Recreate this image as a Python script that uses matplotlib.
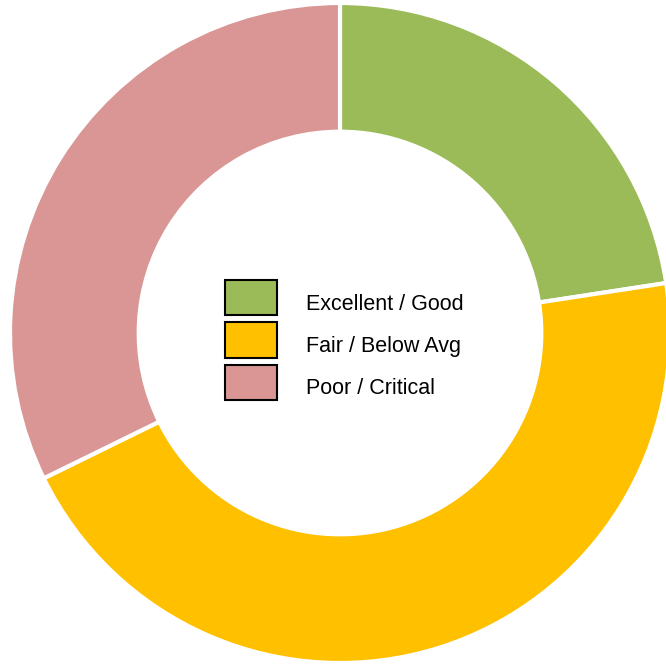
import matplotlib.pyplot as plt
import matplotlib.transforms as mtransforms

labels = ['Excellent / Good', 'Fair / Below Avg', 'Poor / Critical']
counts = [7, 14, 10]
colors = ['#9BBB59', '#FFC000', '#D99694']

plt.rcParams['font.family'] = ['Liberation Sans', 'DejaVu Sans']

fig = plt.figure(figsize=(6.66, 6.65), dpi=100)
ax = fig.add_axes([0, 0, 1, 1])

wedges, _ = ax.pie(counts, colors=colors, startangle=90, counterclock=False,
                   radius=1.0,
                   wedgeprops=dict(width=0.39, edgecolor='white', linewidth=3))

# centre of ring sits at (340, 333) px, radius 330 px
r = 330.0
ax.set_xlim(-340 / r, (666 - 340) / r)
ax.set_ylim(-(665 - 333) / r, 333 / r)
ax.set_aspect('auto')
ax.axis('off')

leg = ax.legend(wedges, labels, loc='center',
                bbox_to_anchor=(344 / 666, 1 - 340 / 665),
                bbox_transform=fig.transFigure,
                frameon=False, fontsize=15.5,
                handlelength=2.42, handleheight=2.13,
                handletextpad=1.35, labelspacing=0.33)
for h in leg.legend_handles:
    h.set_edgecolor('black')
    h.set_linewidth(1.5)
# labels sit a little below the middle of their swatches
for t in leg.get_texts():
    t.set_transform(t.get_transform() + mtransforms.Affine2D().translate(0, -5))

fig.savefig('out.png', dpi=100)
